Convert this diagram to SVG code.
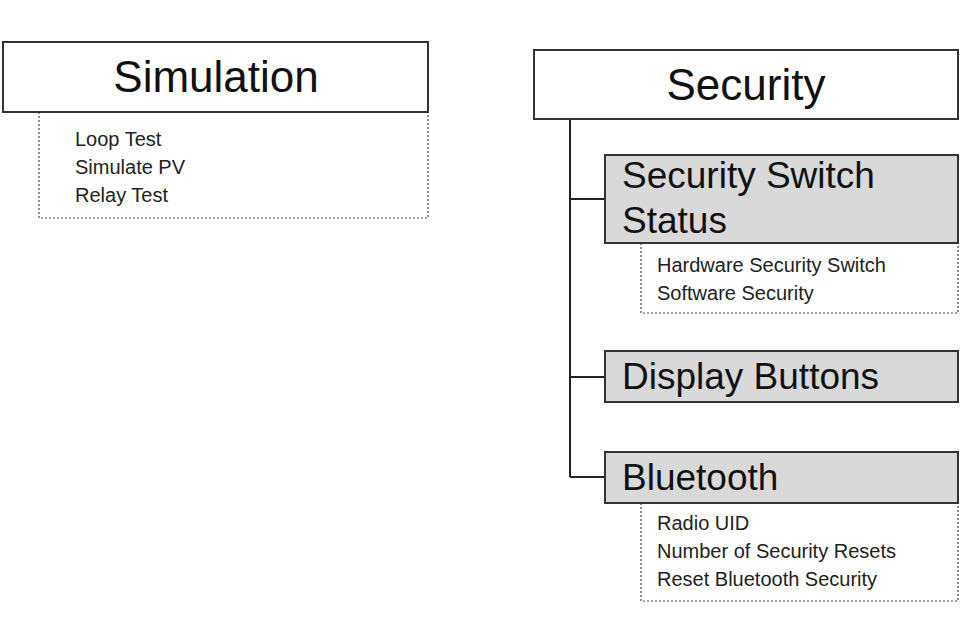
<svg xmlns="http://www.w3.org/2000/svg" width="960" height="640" viewBox="0 0 960 640">
<style>
.hdr{fill:#fff;stroke:#333;stroke-width:2}
.sub{fill:#d9d9d9;stroke:#333;stroke-width:2}
.dot{fill:#fff;stroke:#444;stroke-width:1.2;stroke-dasharray:2 2}
.big{font-family:"Liberation Sans",Arial,sans-serif;font-size:44px;fill:#111}
.mid{font-family:"Liberation Sans",Arial,sans-serif;font-size:37px;fill:#111}
.sm{font-family:"Liberation Sans",Arial,sans-serif;font-size:20px;fill:#222}
.ln{stroke:#222;stroke-width:2;fill:none}
</style>
<rect width="960" height="640" fill="#fff"/>
<g id="connectors">
<path class="ln" d="M570 119V477M570 199H605M570 377H605M570 477H605"/>
</g>
<g id="simulation">
<rect class="dot" x="39" y="112" width="389" height="106"/>
<rect class="hdr" x="3" y="42" width="425" height="70"/>
<text class="big" x="216" y="92" text-anchor="middle">Simulation</text>
<text class="sm" x="75" y="146">Loop Test</text>
<text class="sm" x="75" y="174">Simulate PV</text>
<text class="sm" x="75" y="202">Relay Test</text>
</g>
<g id="security">
<rect class="hdr" x="534" y="50" width="424" height="69"/>
<text class="big" x="746" y="100" text-anchor="middle">Security</text>
</g>
<g id="switch-status">
<rect class="dot" x="641" y="243" width="317" height="70"/>
<rect class="sub" x="605" y="155" width="353" height="88"/>
<text class="mid" x="622" y="188">Security Switch</text>
<text class="mid" x="622" y="233">Status</text>
<text class="sm" x="657" y="272">Hardware Security Switch</text>
<text class="sm" x="657" y="300">Software Security</text>
</g>
<g id="display-buttons">
<rect class="sub" x="605" y="351" width="353" height="51"/>
<text class="mid" x="622" y="389">Display Buttons</text>
</g>
<g id="bluetooth">
<rect class="dot" x="641" y="503" width="317" height="98"/>
<rect class="sub" x="605" y="452" width="353" height="51"/>
<text class="mid" x="622" y="490">Bluetooth</text>
<text class="sm" x="657" y="530">Radio UID</text>
<text class="sm" x="657" y="558">Number of Security Resets</text>
<text class="sm" x="657" y="586">Reset Bluetooth Security</text>
</g>
</svg>
